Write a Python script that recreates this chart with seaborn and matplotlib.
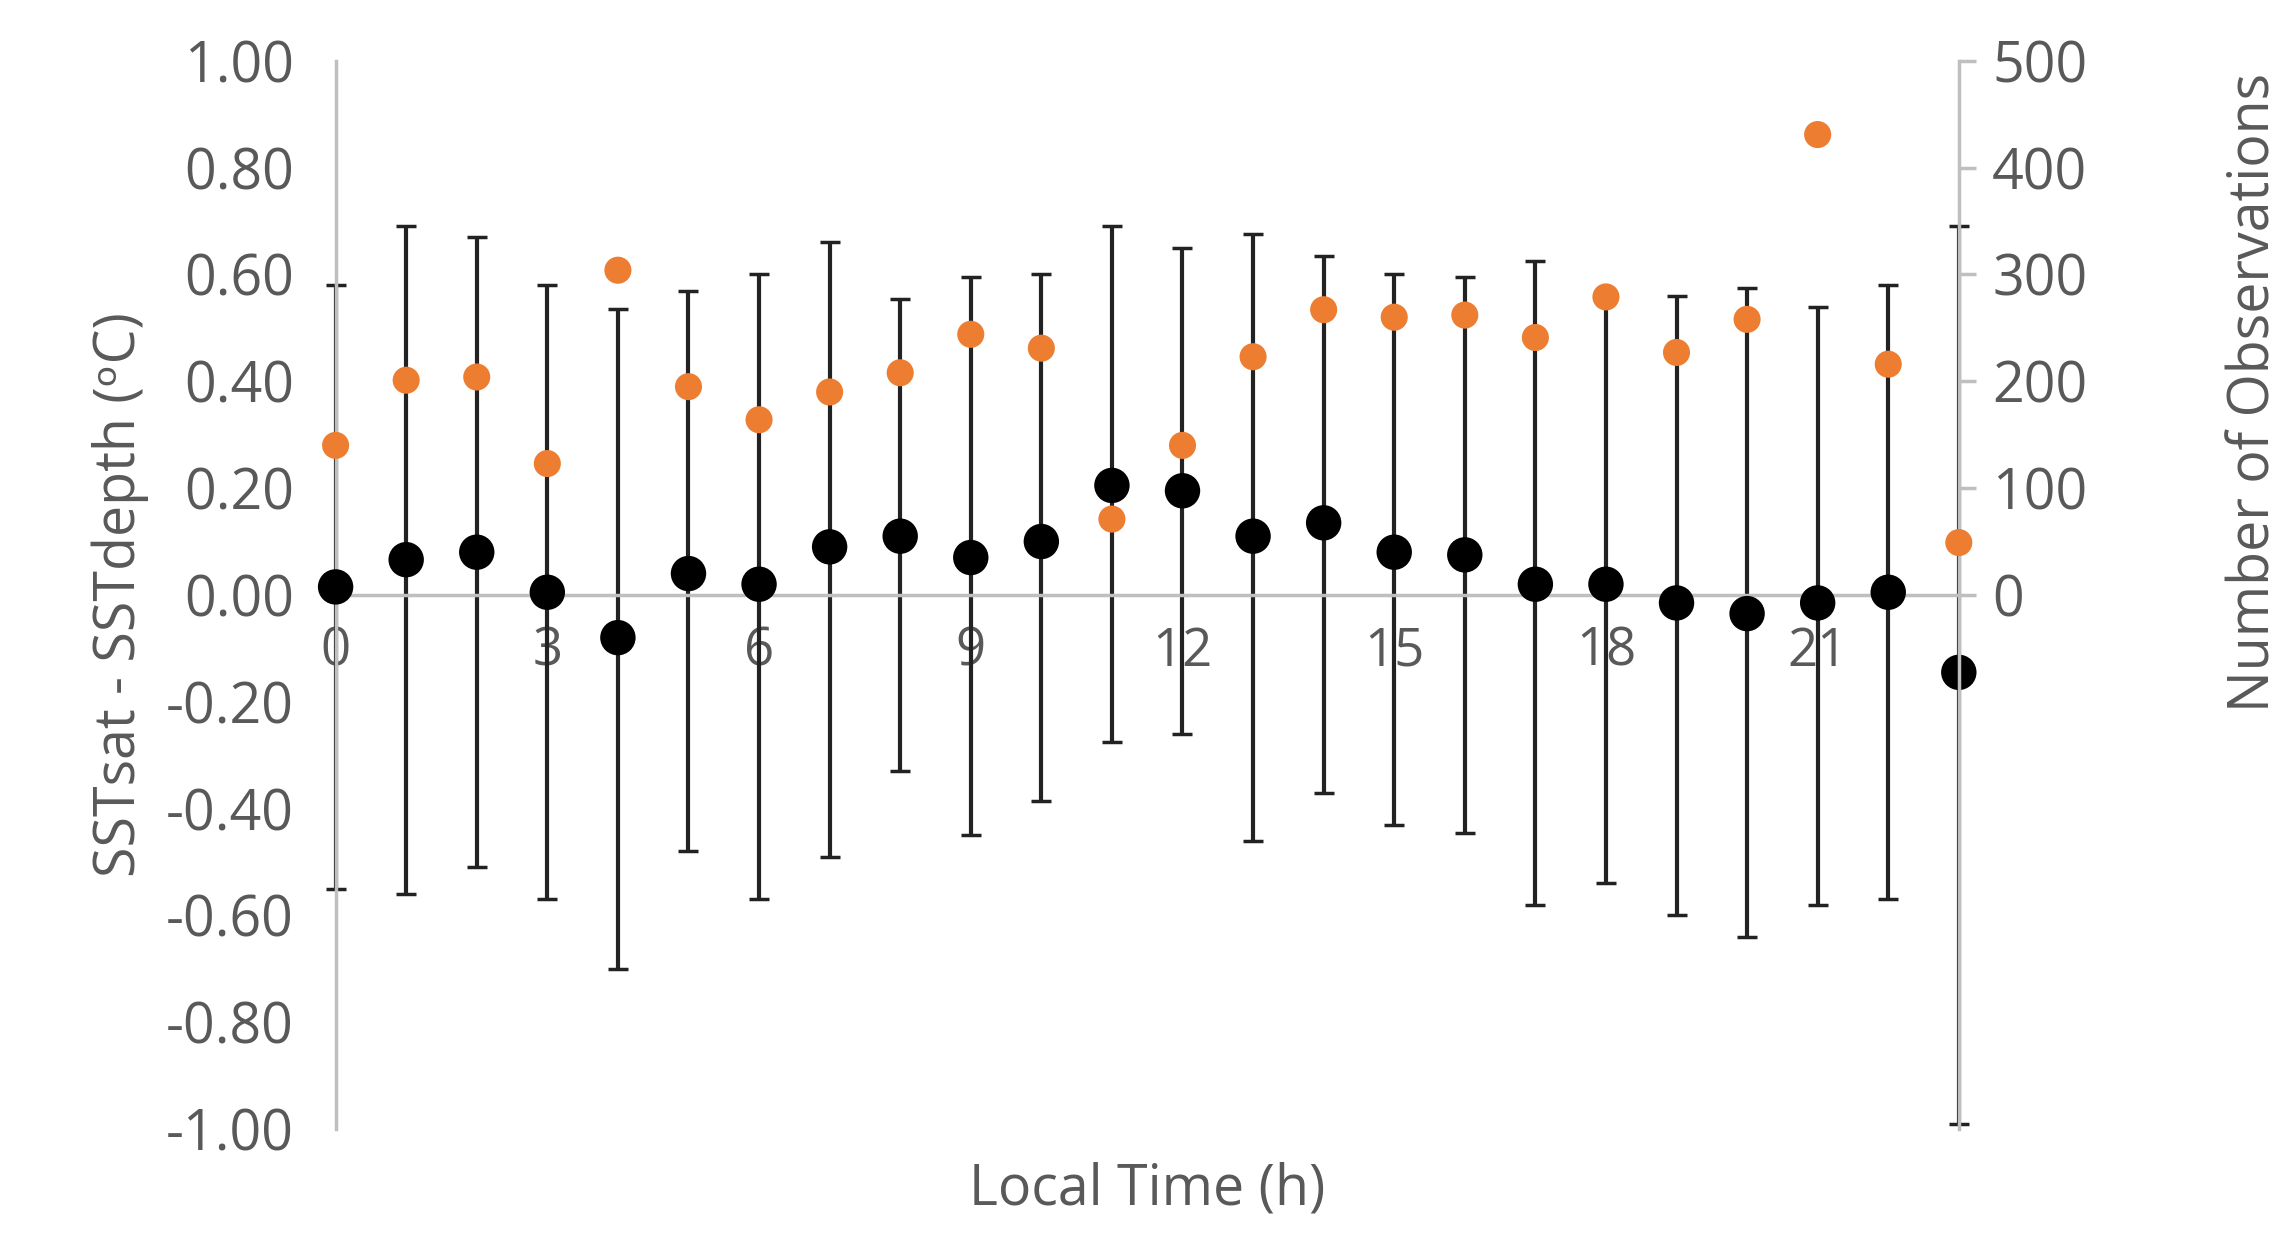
import matplotlib
matplotlib.use("Agg")
import matplotlib.pyplot as plt
import seaborn as sns
import pandas as pd
import numpy as np

hours = list(range(24))
mean_diff = [0.015,0.066,0.08,0.005,-0.08,0.04,0.02,0.09,0.11,0.07,0.10,0.205,0.195,0.11,0.135,0.08,0.075,0.02,0.02,-0.015,-0.035,-0.015,0.005,-0.145]
err_top = [0.58,0.69,0.67,0.58,0.535,0.57,0.60,0.66,0.555,0.595,0.60,0.69,0.65,0.675,0.635,0.60,0.595,0.625,0.56,0.56,0.575,0.54,0.58,0.69]
err_bot = [-0.55,-0.56,-0.51,-0.57,-0.70,-0.48,-0.57,-0.49,-0.33,-0.45,-0.385,-0.275,-0.26,-0.46,-0.37,-0.43,-0.445,-0.58,-0.54,-0.60,-0.64,-0.58,-0.57,-0.99]
n_obs = [140,201,204,123,304,195,164,190,208,244,231,71,140,223,267,260,262,241,279,227,258,431,216,49]
ytick_vals = [-1.0,-0.8,-0.6,-0.4,-0.2,0.0,0.2,0.4,0.6,0.8,1.0]
ytick_labels = ["-1.00","-0.80","-0.60","-0.40","-0.20","0.00","0.20","0.40","0.60","0.80","1.00"]

df = pd.DataFrame(dict(h=hours, m=mean_diff, n=n_obs))
sns.set_style("white")
plt.rcParams['font.family'] = ['Open Sans', 'DejaVu Sans']
grey = "#595959"
fig = plt.figure(figsize=(22.83, 12.42), dpi=100)
ax = fig.add_axes([0.147, 0.091, 0.711, 0.86])
ax2 = ax.twinx()

lo = np.array(mean_diff) - np.array(err_bot)
hi = np.array(err_top) - np.array(mean_diff)
eb = ax.errorbar(hours, mean_diff, yerr=[lo, hi], fmt='none', ecolor='#222222', elinewidth=3, capsize=7, capthick=2.5, zorder=2)
for art in eb.lines[1] + eb.lines[2]:
    art.set_clip_on(False)
sns.scatterplot(data=df, x='h', y='m', ax=ax, color='black', s=650, edgecolor='none', zorder=3, clip_on=False)
sns.scatterplot(data=df, x='h', y='n', ax=ax2, color='#ED7D31', s=380, edgecolor='none', zorder=3, clip_on=False)

ax.set_xlim(0, 23)
ax.set_ylim(-1, 1)
ax2.set_ylim(-500, 500)
ax.set_yticks(ytick_vals)
ax.set_yticklabels(ytick_labels)
ax2.set_yticks(range(0, 501, 100))
ax.set_xticks(range(0, 22, 3))
ax.spines['top'].set_visible(False); ax2.spines['top'].set_visible(False)
ax.spines['bottom'].set_position(('data', 0))
for a in (ax, ax2):
    for s in a.spines.values():
        s.set_color('#BFBFBF'); s.set_linewidth(2.5)
ax2.spines['left'].set_visible(False)
ax2.spines['bottom'].set_visible(False)
ax.spines['right'].set_visible(False)
ax.tick_params(axis='x', length=0, labelsize=38, labelcolor=grey, pad=22)
ax.tick_params(axis='y', length=0, labelsize=40, labelcolor=grey, pad=30)
ax2.tick_params(axis='y', length=12, width=2.5, color='#BFBFBF', labelsize=40, labelcolor=grey, pad=12)
ax.set_xlabel("Local Time (h)", fontsize=40, color=grey, labelpad=0)
ax.xaxis.set_label_coords(0.5, -0.03)
ax.set_ylabel("SSTsat - SSTdepth (ᵒC)", fontsize=40, color=grey, labelpad=12)
ax2.set_ylabel("Number of Observations", fontsize=40, color=grey)
ax2.yaxis.set_label_coords(1.165, 0.69)
fig.savefig("out.png", dpi=100)
